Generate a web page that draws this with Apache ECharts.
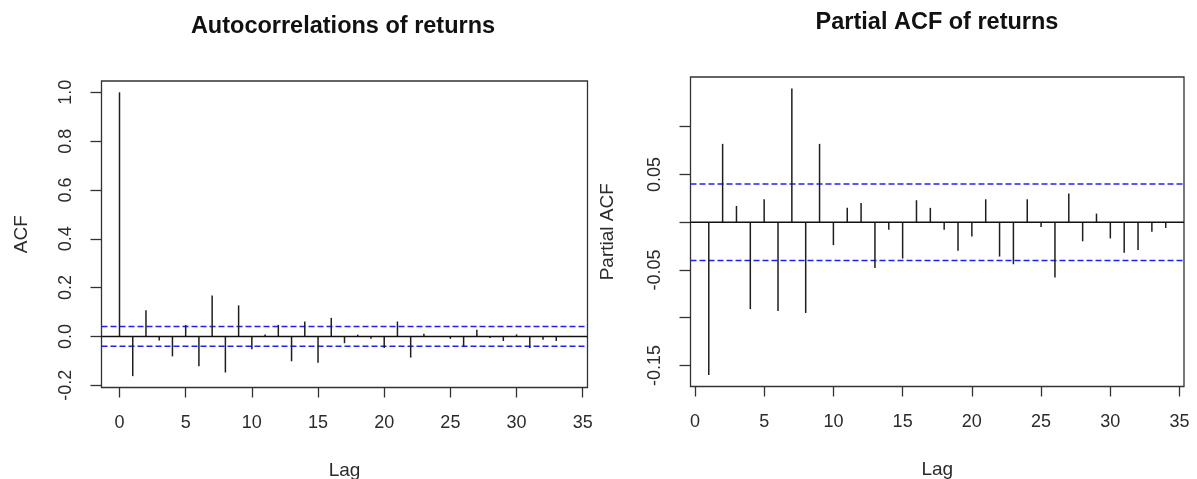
<!DOCTYPE html>
<html><head><meta charset="utf-8">
<script src="https://cdn.jsdelivr.net/npm/echarts@6/dist/echarts.min.js"></script>
<style>html,body{margin:0;padding:0;background:#fff}#c{width:1197px;height:479px}</style>
</head><body><div id="c"></div>
<script>
// ---- data ----
const acfLags = [0,1,2,3,4,5,6,7,8,9,10,11,12,13,14,15,16,17,18,19,20,21,22,23,24,25,26,27,28,29,30,31,32,33,34];
const acfValues = [1.0,-0.163,0.107,-0.017,-0.082,0.047,-0.122,0.167,-0.148,0.127,-0.053,0.008,0.047,-0.102,0.061,-0.108,0.076,-0.028,0.007,-0.010,-0.048,0.061,-0.087,0.011,0.002,-0.010,-0.041,0.027,-0.007,-0.019,0.008,-0.048,-0.014,-0.019,0.002];
const pacfLags = [1,2,3,4,5,6,7,8,9,10,11,12,13,14,15,16,17,18,19,20,21,22,23,24,25,26,27,28,29,30,31,32,33,34];
const pacfValues = [-0.160,0.082,0.017,-0.091,0.024,-0.093,0.140,-0.095,0.082,-0.024,0.015,0.020,-0.048,-0.008,-0.038,0.023,0.015,-0.008,-0.030,-0.015,0.024,-0.036,-0.044,0.024,-0.005,-0.058,0.030,-0.020,0.009,-0.017,-0.032,-0.029,-0.010,-0.006];
const ciBound = 0.04;
const xTicks = [0,5,10,15,20,25,30,35];
const acfYTicks = [-0.2,0,0.2,0.4,0.6,0.8,1.0];
const pacfYTicks = [-0.15,-0.1,-0.05,0,0.05,0.1];
const pacfYLabels = [-0.15,-0.05,0.05];
const acfXRange = [-1.36, 35.36];
const acfYRange = [-0.2095, 1.0465];
const pacfXRange = [-0.32, 35.32];
const pacfYRange = [-0.172, 0.152];
const titles = ['Autocorrelations of returns', 'Partial ACF of returns'];
const yNames = ['ACF', 'Partial ACF'];
const xName = 'Lag';

// ---- chart ----
const FONT = 'Liberation Sans, Arial, sans-serif';
const TXT = '#2b2b2b';
const chart = echarts.init(document.getElementById('c'), null, {renderer: 'canvas'});

function xAxisDef(idx, range) {
  return {
    type: 'value', gridIndex: idx, min: range[0], max: range[1],
    name: xName, nameLocation: 'middle', nameGap: 74,
    nameTextStyle: {fontFamily: FONT, fontSize: 19, color: TXT},
    axisLine: {show: false, onZero: false},
    axisTick: {show: true, length: 10, inside: false, customValues: xTicks, lineStyle: {color: '#333', width: 1.3}},
    axisLabel: {customValues: xTicks, margin: 27, fontFamily: FONT, fontSize: 18, color: TXT},
    splitLine: {show: false}
  };
}
function yAxisDef(idx, range, ticks, labels, dec, gap) {
  return {
    type: 'value', gridIndex: idx, min: range[0], max: range[1],
    name: yNames[idx], nameLocation: 'middle', nameGap: gap, nameRotate: 90,
    nameTextStyle: {fontFamily: FONT, fontSize: 19, color: TXT},
    axisLine: {show: false, onZero: false},
    axisTick: {show: true, length: 11, inside: false, customValues: ticks, lineStyle: {color: '#333', width: 1.3}},
    axisLabel: {customValues: labels, rotate: 90, margin: 26, fontFamily: FONT, fontSize: 18, color: TXT,
      formatter: v => Number(v).toFixed(dec)},
    splitLine: {show: false}
  };
}
function spikeSeries(idx, lags, vals) {
  return {
    type: 'custom', xAxisIndex: idx, yAxisIndex: idx, clip: false,
    data: lags.map((l, i) => [l, vals[i]]),
    renderItem: (params, api) => {
      const x = api.value(0), y = api.value(1);
      const p0 = api.coord([x, 0]), p1 = api.coord([x, y]);
      return {type: 'line', shape: {x1: p0[0], y1: p0[1], x2: p1[0], y2: p1[1]},
        style: {stroke: '#1e1e1e', lineWidth: 1.5}};
    },
    z: 3
  };
}
function hLine(idx, range, yv, color, dashed) {
  return {
    type: 'line', xAxisIndex: idx, yAxisIndex: idx, symbol: 'none', silent: true,
    data: [[range[0], yv], [range[1], yv]],
    lineStyle: {color: color, width: 1.5, type: dashed ? [6, 3] : 'solid'},
    z: dashed ? 2 : 4
  };
}

const option = {
  animation: false,
  backgroundColor: '#fff',
  grid: [
    {left: 101.5, top: 81, width: 486, height: 306.5, show: true, borderColor: '#333', borderWidth: 1.3,
      backgroundColor: 'transparent', containLabel: false, outerBoundsMode: 'none'},
    {left: 690.5, top: 77, width: 493.5, height: 309.5, show: true, borderColor: '#333', borderWidth: 1.3,
      backgroundColor: 'transparent', containLabel: false, outerBoundsMode: 'none'}
  ],
  xAxis: [xAxisDef(0, acfXRange), xAxisDef(1, pacfXRange)],
  yAxis: [
    yAxisDef(0, acfYRange, acfYTicks, acfYTicks, 1, 70),
    yAxisDef(1, pacfYRange, pacfYTicks, pacfYLabels, 2, 73)
  ],
  series: [
    hLine(0, acfXRange, 0, '#111', false),
    hLine(0, acfXRange, ciBound, '#2020ff', true),
    hLine(0, acfXRange, -ciBound, '#2020ff', true),
    spikeSeries(0, acfLags, acfValues),
    hLine(1, pacfXRange, 0, '#111', false),
    hLine(1, pacfXRange, ciBound, '#2020ff', true),
    hLine(1, pacfXRange, -ciBound, '#2020ff', true),
    spikeSeries(1, pacfLags, pacfValues)
  ],
  graphic: [
    {type: 'text', x: 343, y: 27, style: {text: titles[0], textAlign: 'center', textVerticalAlign: 'middle',
      font: 'bold 23.5px ' + FONT, fill: '#111'}},
    {type: 'text', x: 937, y: 23, style: {text: titles[1], textAlign: 'center', textVerticalAlign: 'middle',
      font: 'bold 23.5px ' + FONT, fill: '#111'}}
  ]
};
chart.setOption(option);
</script>
</body></html>
